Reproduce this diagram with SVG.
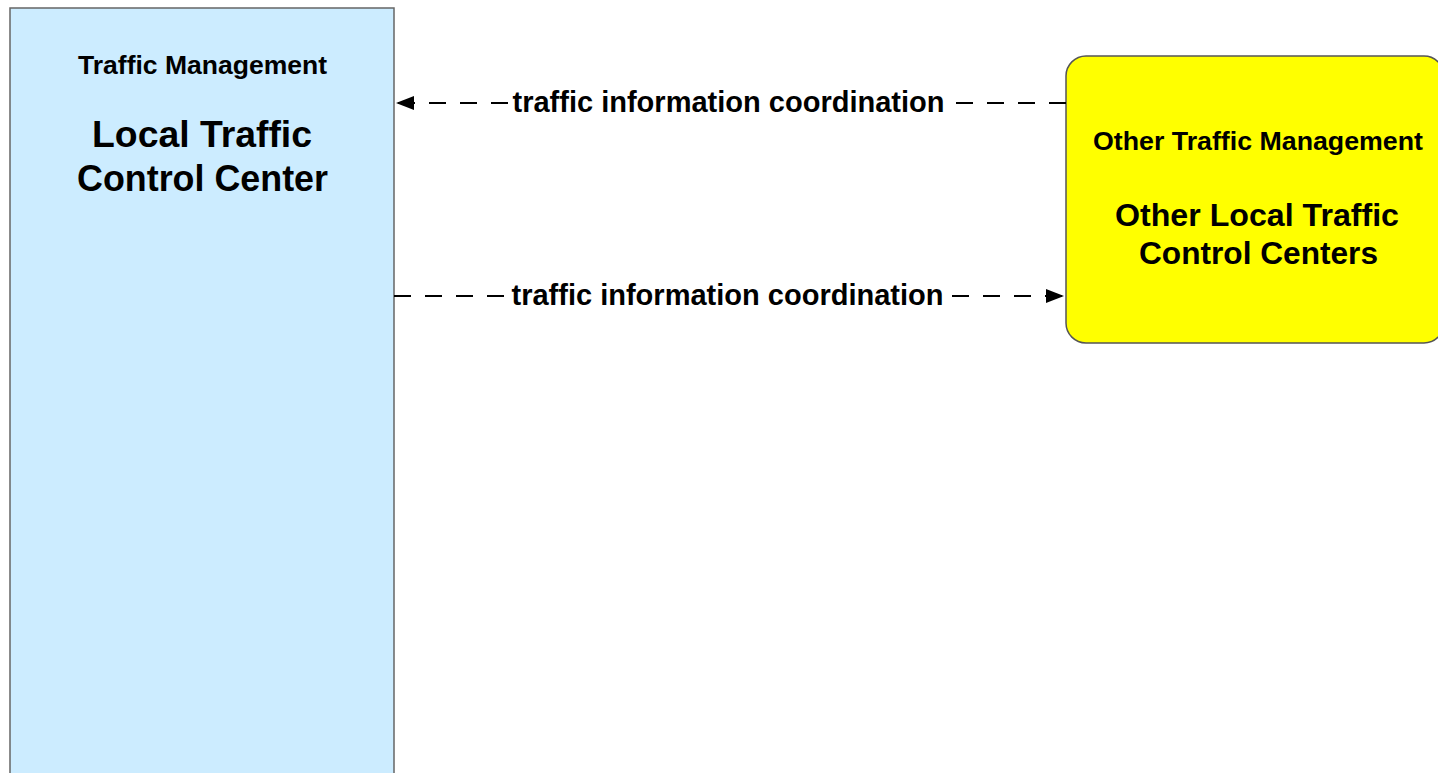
<svg xmlns="http://www.w3.org/2000/svg" width="1438" height="773" viewBox="0 0 1438 773">
  <style>
    text { font-family: "Liberation Sans", Arial, sans-serif; font-weight: bold; fill: #000; text-anchor: middle; }
    .small { font-size: 26.5px; }
    .label { font-size: 29px; }
    .big { font-size: 36.5px; }
    .big2 { font-size: 32px; }
    .flow { fill: none; stroke: #000; stroke-width: 2; stroke-dasharray: 17 14; }
    .lblbg { fill: #fff; }
  </style>
  <defs>
    <marker id="arrow" markerUnits="userSpaceOnUse" markerWidth="20" markerHeight="16" refX="18" refY="8" orient="auto" overflow="visible">
      <path d="M0,1 L18,8 L0,15 z" fill="#000"/>
    </marker>
  </defs>
  <rect width="1438" height="773" fill="#fff"/>

  <g id="node-local">
    <rect x="10" y="8" width="384" height="775" fill="#CCECFF" stroke="#666" stroke-width="1.5"/>
    <text class="small" x="202.5" y="74" textLength="249" lengthAdjust="spacingAndGlyphs">Traffic Management</text>
    <text class="big" x="202" y="147" textLength="220" lengthAdjust="spacingAndGlyphs">Local Traffic</text>
    <text class="big" x="202.5" y="191" textLength="251" lengthAdjust="spacingAndGlyphs">Control Center</text>
  </g>

  <g id="node-other">
    <rect x="1066" y="56" width="378" height="287" rx="20" ry="20" fill="#FFFF00" stroke="#555" stroke-width="1.5"/>
    <text class="small" x="1258" y="150" textLength="330" lengthAdjust="spacingAndGlyphs">Other Traffic Management</text>
    <text class="big2" x="1257" y="226" textLength="284" lengthAdjust="spacingAndGlyphs">Other Local Traffic</text>
    <text class="big2" x="1258.5" y="264" textLength="239" lengthAdjust="spacingAndGlyphs">Control Centers</text>
  </g>

  <g id="connectors">
    <g id="flow-1">
      <line class="flow" x1="1066" y1="103" x2="396" y2="103" marker-end="url(#arrow)"/>
      <rect class="lblbg" x="512" y="88" width="434" height="30"/>
      <text class="label" x="728.5" y="112" textLength="432" lengthAdjust="spacingAndGlyphs">traffic information coordination</text>
    </g>
    <g id="flow-2">
      <line class="flow" x1="394" y1="296" x2="1064" y2="296" marker-end="url(#arrow)"/>
      <rect class="lblbg" x="511" y="281" width="434" height="30"/>
      <text class="label" x="727.5" y="305" textLength="432" lengthAdjust="spacingAndGlyphs">traffic information coordination</text>
    </g>
  </g>
</svg>
